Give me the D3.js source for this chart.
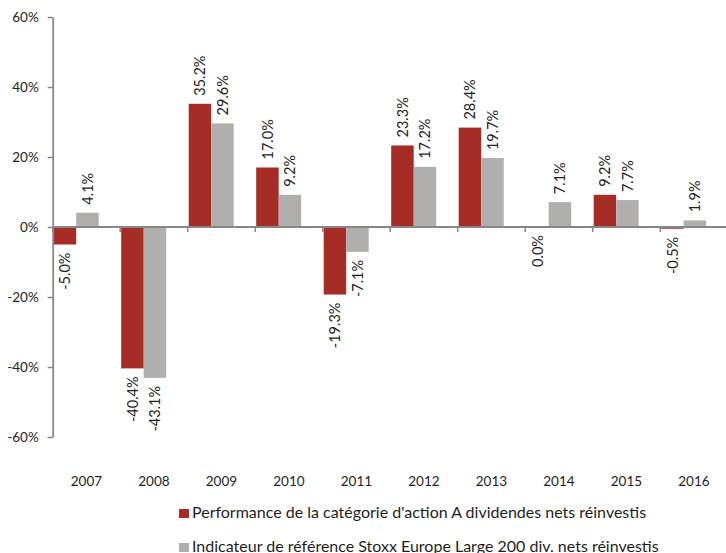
<!DOCTYPE html>
<html>
<head>
<meta charset="utf-8">
<script src="https://cdn.jsdelivr.net/npm/d3@7/dist/d3.min.js"></script>
<style>
  html, body { margin: 0; padding: 0; background: #fff; }
  svg { display: block; font-family: Lato, "Liberation Sans", sans-serif; }
</style>
</head>
<body>
<svg id="chart" width="726" height="553"></svg>
<script>
// Annual performance, in percent
const years = ["2007", "2008", "2009", "2010", "2011", "2012", "2013", "2014", "2015", "2016"];
const fundPerf  = [-5.0, -40.4, 35.2, 17.0, -19.3, 23.3, 28.4, 0.0, 9.2, -0.5];
const benchPerf = [4.1, -43.1, 29.6, 9.2, -7.1, 17.2, 19.7, 7.1, 7.7, 1.9];
const yTicks = [-60, -40, -20, 0, 20, 40, 60];
const seriesNames = [
  "Performance de la catégorie d'action A dividendes nets réinvestis",
  "Indicateur de référence Stoxx Europe Large 200 div. nets réinvestis"
];
const seriesColors = ["#A62D25", "#B0AFAD"];

const svg = d3.select("#chart");
const axisColor = "#878787";
const textColor = "#1e1e1e";

const y = d3.scaleLinear().domain([-60, 60]).range([437, 17]);
const x = d3.scaleBand().domain(years).range([52.7, 727.7]).paddingInner(0).paddingOuter(0);
const barW = x.bandwidth() / 3;

const series = [fundPerf, benchPerf];

// Bars
series.forEach((vals, s) => {
  svg.append("g")
    .selectAll("rect")
    .data(vals.map((v, i) => ({ year: years[i], v })))
    .join("rect")
    .attr("x", d => x(d.year) + 1 + s * barW)
    .attr("width", barW)
    .attr("y", d => y(Math.max(0, d.v)))
    .attr("height", d => Math.abs(y(d.v) - y(0)))
    .attr("fill", seriesColors[s]);
});

// Value labels, rotated, above positive bars and below the others
series.forEach((vals, s) => {
  svg.append("g")
    .selectAll("text")
    .data(vals.map((v, i) => ({ year: years[i], v })))
    .join("text")
    .attr("transform", d => {
      const cx = x(d.year) + 1 + s * barW + barW / 2;
      const cy = d.v > 0 ? y(d.v) - 8 : y(d.v) + 8;
      return `translate(${cx},${cy}) rotate(-90)`;
    })
    .attr("dy", "0.35em")
    .attr("text-anchor", d => d.v > 0 ? "start" : "end")
    .attr("font-size", 14.5)
    .attr("fill", textColor)
    .text(d => d.v.toFixed(1) + "%");
});

// Y axis
const yAxis = svg.append("g")
  .attr("transform", `translate(${x.range()[0]},0)`)
  .call(d3.axisLeft(y).tickValues(yTicks).tickFormat(d => d + "%").tickSize(5).tickSizeOuter(0).tickPadding(9));
yAxis.select(".domain").attr("stroke", axisColor).attr("stroke-width", 1.8);
yAxis.selectAll(".tick line").attr("stroke", axisColor).attr("stroke-width", 1.5);
yAxis.selectAll(".tick text").attr("font-size", 13.5).attr("fill", textColor).attr("font-family", "Lato, sans-serif");

// Zero line with category ticks
svg.append("line")
  .attr("x1", x.range()[0]).attr("x2", 726)
  .attr("y1", y(0)).attr("y2", y(0))
  .attr("stroke", axisColor).attr("stroke-width", 1.8);
svg.append("g")
  .selectAll("line")
  .data(years)
  .join("line")
  .attr("x1", d => x(d)).attr("x2", d => x(d))
  .attr("y1", y(0)).attr("y2", y(0) + 5)
  .attr("stroke", axisColor).attr("stroke-width", 1.5);

// Category labels along the bottom
svg.append("g")
  .selectAll("text")
  .data(years)
  .join("text")
  .attr("x", d => x(d) + x.bandwidth() / 2)
  .attr("y", 486)
  .attr("text-anchor", "middle")
  .attr("font-size", 13.5)
  .attr("fill", textColor)
  .text(d => d);

// Legend
const legend = svg.append("g")
  .selectAll("g")
  .data(seriesNames)
  .join("g")
  .attr("transform", (d, i) => `translate(179,${509 + i * 34})`);
legend.append("rect")
  .attr("width", 10).attr("height", 9)
  .attr("fill", (d, i) => seriesColors[i]);
legend.append("text")
  .attr("x", 13).attr("y", 8.5)
  .attr("font-size", 16)
  .attr("fill", textColor)
  .text(d => d);
</script>
</body>
</html>
